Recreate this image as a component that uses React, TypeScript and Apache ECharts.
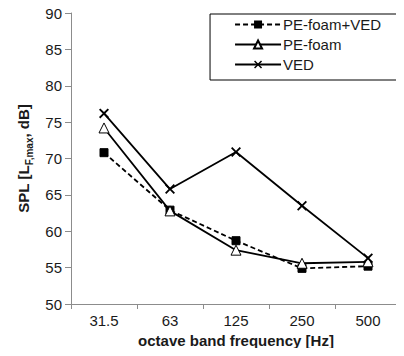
import React, { useEffect, useRef } from "react";
import * as echarts from "echarts";

const categories = ["31.5", "63", "125", "250", "500"];
const seriesNames = ["PE-foam+VED", "PE-foam", "VED"];
const peFoamVed = [70.8, 62.9, 58.7, 54.9, 55.2];
const peFoam = [74.2, 62.8, 57.4, 55.6, 55.8];
const ved = [76.2, 65.8, 70.9, 63.5, 56.3];
const yTicks = { min: 50, max: 90, interval: 5 };

const crossPath =
  "path://M0,1.3 L1.3,0 L5,3.7 L8.7,0 L10,1.3 L6.3,5 L10,8.7 L8.7,10 L5,6.3 L1.3,10 L0,8.7 L3.7,5 Z";

export default function App() {
  const ref = useRef<HTMLDivElement>(null);
  useEffect(() => {
    if (!ref.current) return;
    const chart = echarts.init(ref.current, undefined, { renderer: "svg" });
    const axisColor = "#8c8c8c";
    const textColor = "#1a1a1a";
    const font = "Liberation Sans";
    chart.setOption({
      animation: false,
      backgroundColor: "#fff",
      grid: { left: 71, right: 3, top: 13, bottom: 52 },
      legend: {
        orient: "vertical",
        right: 1,
        top: 14,
        backgroundColor: "#fff",
        borderColor: "#000",
        borderWidth: 1,
        padding: [3, 22, 8, 24],
        itemGap: 5,
        itemWidth: 46,
        itemHeight: 10,
        textStyle: { fontFamily: font, fontSize: 15, color: textColor, padding: [0, 0, 0, -3] },
        data: seriesNames,
      },
      xAxis: {
        type: "category",
        data: categories,
        boundaryGap: true,
        name: "octave band frequency [Hz]",
        nameLocation: "middle",
        nameGap: 28,
        nameTextStyle: { fontFamily: font, fontSize: 15, fontWeight: "bold", color: textColor },
        axisLine: { lineStyle: { color: axisColor, width: 1 } },
        axisTick: { show: true, length: 5, inside: false, lineStyle: { color: axisColor } },
        axisLabel: { fontFamily: font, fontSize: 15, color: textColor, margin: 9 },
      },
      yAxis: {
        type: "value",
        min: yTicks.min,
        max: yTicks.max,
        interval: yTicks.interval,
        name: "{a|SPL [L}{b|F,max}{a|, dB]}",
        nameLocation: "middle",
        nameGap: 38,
        nameRotate: 90,
        nameTextStyle: {
          rich: {
            a: { fontFamily: font, fontSize: 15, fontWeight: "bold", color: textColor, lineHeight: 18, verticalAlign: "bottom" },
            b: { fontFamily: font, fontSize: 10, fontWeight: "bold", color: textColor, lineHeight: 18, verticalAlign: "bottom", padding: [0, 0, -3, 0] },
          },
        },
        axisLine: { show: true, lineStyle: { color: axisColor, width: 1 } },
        axisTick: { show: true, length: 6, lineStyle: { color: axisColor } },
        splitLine: { show: false },
        axisLabel: { fontFamily: font, fontSize: 15, color: textColor, margin: 9 },
      },
      series: [
        {
          name: seriesNames[0],
          type: "line",
          data: peFoamVed,
          symbol: "rect",
          symbolSize: 8,
          lineStyle: { color: "#000", width: 1.8, type: [5, 3] },
          itemStyle: { color: "#000", borderColor: "#000" },
          z: 2,
        },
        {
          name: seriesNames[1],
          type: "line",
          data: peFoam,
          symbol: "triangle",
          symbolSize: 10,
          lineStyle: { color: "#000", width: 1.8 },
          itemStyle: { color: "#fff", borderColor: "#000", borderWidth: 1 },
          z: 3,
        },
        {
          name: seriesNames[2],
          type: "line",
          data: ved,
          symbol: crossPath,
          symbolSize: 10,
          lineStyle: { color: "#000", width: 1.8 },
          itemStyle: { color: "#000", borderColor: "#000", borderWidth: 0 },
          z: 4,
        },
      ],
    });
    return () => chart.dispose();
  }, []);
  return <div ref={ref} style={{ width: 404, height: 356, margin: -8 }} />;
}
